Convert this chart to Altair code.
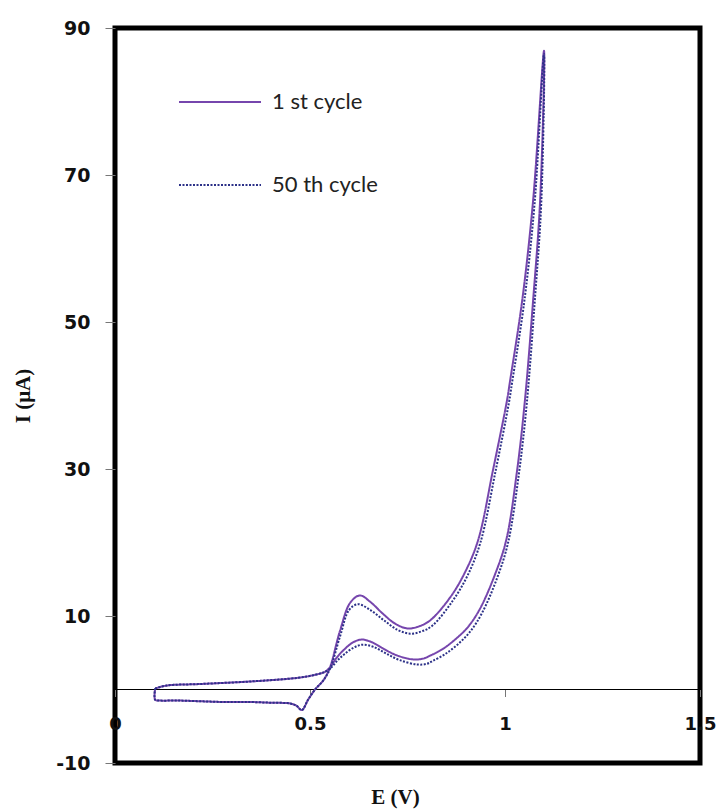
import altair as alt
import pandas as pd

# Cyclic voltammogram: potential E (V) and current I (µA) along each closed scan
cycle1_E = [0.103, 0.133, 0.22, 0.35, 0.47, 0.513, 0.538, 0.551, 0.568, 0.585,
            0.61, 0.633, 0.66, 0.69, 0.72, 0.762, 0.79, 0.808, 0.84, 0.872,
            0.905, 0.936, 0.974, 1.003, 1.031, 1.051, 1.072, 1.09, 1.10,
            1.072, 1.044, 1.013, 1.005, 0.969, 0.931, 0.897, 0.859, 0.808,
            0.78, 0.751, 0.72, 0.687, 0.655, 0.628, 0.603, 0.577, 0.551, 0.535,
            0.513, 0.495, 0.479, 0.465, 0.449, 0.40, 0.346, 0.28, 0.218, 0.16,
            0.115, 0.103, 0.103]
cycle1_I = [0.14, 0.54, 0.75, 1.1, 1.6, 2.0, 2.4, 3.0, 4.3, 5.3,
            6.4, 6.8, 6.4, 5.5, 4.7, 4.1, 4.2, 4.6, 5.5, 6.8,
            8.5, 11.0, 15.6, 20.3, 29.8, 39.3, 52.9, 66.5, 86.9,
            66.5, 52.9, 42.0, 39.3, 29.8, 20.3, 15.9, 12.5, 9.4,
            8.6, 8.3, 8.9, 10.3, 11.9, 12.8, 11.8, 8.0, 3.0, 1.3,
            0.0, -1.4, -2.8, -2.2, -1.9, -1.8, -1.7, -1.7, -1.6, -1.5,
            -1.5, -1.4, 0.14]

cycle50_E = [0.103, 0.133, 0.22, 0.35, 0.47, 0.513, 0.538, 0.553, 0.571, 0.588,
             0.612, 0.635, 0.663, 0.695, 0.73, 0.775, 0.80, 0.815, 0.846, 0.878,
             0.911, 0.942, 0.980, 1.008, 1.036, 1.056, 1.076, 1.093, 1.10,
             1.076, 1.049, 1.018, 1.010, 0.975, 0.937, 0.903, 0.865, 0.814,
             0.786, 0.757, 0.725, 0.69, 0.655, 0.623, 0.600, 0.578, 0.552, 0.535,
             0.513, 0.495, 0.479, 0.465, 0.449, 0.40, 0.346, 0.28, 0.218, 0.16,
             0.115, 0.103, 0.103]
cycle50_I = [0.14, 0.54, 0.75, 1.1, 1.6, 2.0, 2.4, 2.9, 4.0, 4.8,
             5.7, 6.1, 5.8, 4.9, 4.0, 3.4, 3.5, 3.9, 4.8, 6.1,
             7.9, 10.5, 15.2, 20.0, 29.5, 39.0, 52.6, 66.2, 86.5,
             66.2, 52.6, 41.7, 39.0, 29.5, 20.0, 15.4, 12.0, 8.7,
             7.9, 7.6, 8.1, 9.4, 10.8, 11.6, 10.8, 7.4, 2.9, 1.3,
             0.0, -1.4, -2.8, -2.2, -1.9, -1.8, -1.7, -1.7, -1.6, -1.5,
             -1.5, -1.4, 0.14]

series_names = ["1 st cycle", "50 th cycle"]
series_colors = ["#7646ad", "#2c3188"]
series_dashes = [[1, 0], [2, 1.5]]
x_ticks = [0, 0.5, 1, 1.5]
y_ticks = [-10, 10, 30, 50, 70, 90]
zero_line = [0]

frames = []
for name, e_vals, i_vals in zip(series_names, [cycle1_E, cycle50_E], [cycle1_I, cycle50_I]):
    frames.append(pd.DataFrame({
        "E": e_vals,
        "I": i_vals,
        "cycle": name,
        "step": list(range(len(e_vals))),
    }))
cv = pd.concat(frames, ignore_index=True)

label_font = "DejaVu Sans"
title_font = "Liberation Serif"

x_enc = alt.X(
    "E:Q",
    scale=alt.Scale(domain=[0, 1.5], nice=False, zero=False),
    axis=alt.Axis(
        values=x_ticks, title="E (V)", offset=-73.5, domain=False,
        grid=False, tickSize=7, tickColor="#777", tickWidth=1,
        labelFlush=False, labelPadding=19, labelFont=label_font,
        labelFontSize=18, labelFontWeight="bold", labelColor="#111",
        labelExpr="toString(datum.value)",
        titleFont=title_font, titleFontSize=21, titleFontWeight="bold",
        titleColor="#111", titleBaseline="middle", titleX=280, titleY=108,
    ),
)
y_enc = alt.Y(
    "I:Q",
    scale=alt.Scale(domain=[-10, 90], nice=False),
    axis=alt.Axis(
        values=y_ticks, title="I (μA)", domain=False, grid=False,
        tickSize=10, tickColor="#777", tickWidth=1, labelPadding=15,
        labelFont=label_font, labelFontSize=19, labelFontWeight="bold",
        labelColor="#111", labelExpr="toString(datum.value)",
        titleFont=title_font, titleFontSize=21, titleFontWeight="bold",
        titleColor="#111", titleBaseline="middle", titleX=-92, titleY=367.5,
    ),
)

legend = alt.Legend(
    title=None, orient="none", legendX=63, legendY=32, padding=0,
    symbolType="stroke", symbolSize=6724, symbolStrokeWidth=2,
    labelFont="Lato", labelFontSize=22, labelColor="#222",
    labelOffset=10, rowPadding=30,
)

curves = alt.Chart(cv).mark_line(
    strokeWidth=2, interpolate="catmull-rom", strokeCap="butt"
).encode(
    x=x_enc,
    y=y_enc,
    color=alt.Color("cycle:N", scale=alt.Scale(domain=series_names, range=series_colors), legend=legend),
    strokeDash=alt.StrokeDash("cycle:N", scale=alt.Scale(domain=series_names, range=series_dashes), legend=legend),
    order="step:Q",
)

baseline = alt.Chart(pd.DataFrame({"I": zero_line})).mark_rule(
    color="black", strokeWidth=1
).encode(y="I:Q")

chart = alt.layer(baseline, curves).properties(
    width=585,
    height=735,
    autosize=alt.AutoSizeParams(type="none"),
    padding={"left": 115, "top": 28, "right": 23, "bottom": 48},
    background="white",
).configure_view(stroke="black", strokeWidth=5)

chart.save("out.html", embed_options={"renderer": "svg", "actions": False})
